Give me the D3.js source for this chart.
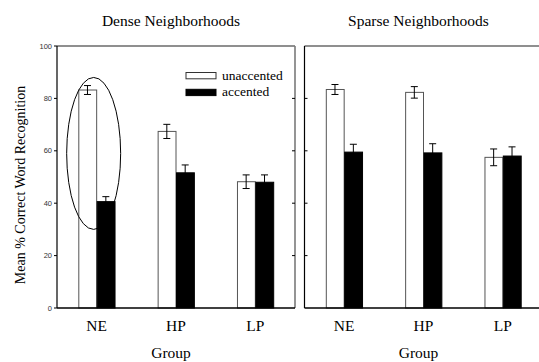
<!DOCTYPE html>
<html>
<head>
<meta charset="utf-8">
<script src="https://cdn.jsdelivr.net/npm/d3@7"></script>
<style>
  html, body { margin: 0; padding: 0; background: #fff; }
  svg { display: block; }
</style>
</head>
<body>
<svg id="chart" width="539" height="362"></svg>
<script>
// Word recognition by listener group, split by neighborhood density
const groups = ["NE", "HP", "LP"];
const panels = ["Dense Neighborhoods", "Sparse Neighborhoods"];
const seriesNames = ["unaccented", "accented"];

const denseUnaccented = [83.2, 67.4, 48.2];
const denseAccented   = [40.6, 51.6, 48.0];
const sparseUnaccented = [83.4, 82.3, 57.5];
const sparseAccented   = [59.5, 59.2, 58.0];

const denseUnaccentedErr = [1.7, 2.7, 2.6];
const denseAccentedErr   = [1.9, 3.0, 2.8];
const sparseUnaccentedErr = [1.9, 2.2, 3.2];
const sparseAccentedErr   = [3.0, 3.5, 3.5];

const yTicks = [0, 20, 40, 60, 80, 100];
const yLabel = "Mean % Correct Word Recognition";
const xLabel = "Group";

// highlighted region around the dense NE pair (value range)
const ringGroup = "NE";
const ringRange = [30, 88];

const panelData = [
  { title: panels[0], values: [denseUnaccented, denseAccented], errs: [denseUnaccentedErr, denseAccentedErr] },
  { title: panels[1], values: [sparseUnaccented, sparseAccented], errs: [sparseUnaccentedErr, sparseAccentedErr] }
];

const svg = d3.select("#chart");
const serif = "'Liberation Serif', 'Times New Roman', serif";
const sans = "'Liberation Sans', Arial, sans-serif";

const plotTop = 46, plotBottom = 308;
const panelX = [[57, 295], [304.5, 542.5]];

const y = d3.scaleLinear().domain([0, 100]).range([plotBottom, plotTop]);

panelData.forEach((p, pi) => {
  const [x0, x1] = panelX[pi];
  const x = d3.scaleBand().domain(groups).range([x0, x1]).paddingInner(0.537).paddingOuter(0.2685);
  const xs = d3.scaleBand().domain(seriesNames).range([0, x.bandwidth()]);
  const g = svg.append("g");
  const mid = (x0 + x1) / 2 - 5;

  // title
  g.append("text").attr("x", mid).attr("y", 26).attr("text-anchor", "middle")
    .style("font-family", serif).style("font-size", "15.5px").text(p.title);

  // frame: top and right edges
  g.append("line").attr("x1", x0).attr("x2", x1).attr("y1", plotTop).attr("y2", plotTop)
    .attr("stroke", "#6a6a6a").attr("stroke-width", 1.6);
  if (pi === 0) {
    g.append("line").attr("x1", x1).attr("x2", x1).attr("y1", plotTop).attr("y2", plotBottom)
      .attr("stroke", "#7a7a7a").attr("stroke-width", 1.6);
    // inward ticks on the right edge
    g.selectAll(".rt").data(yTicks.filter(t => t > 0 && t < 100)).enter().append("line")
      .attr("x1", x1 - 3).attr("x2", x1).attr("y1", d => y(d)).attr("y2", d => y(d))
      .attr("stroke", "#000").attr("stroke-width", 1);
  }

  // bars
  seriesNames.forEach((s, si) => {
    g.selectAll(".bar" + si).data(groups).enter().append("rect")
      .attr("x", d => x(d) + xs(s) + 0.5)
      .attr("y", (d, i) => y(p.values[si][i]))
      .attr("width", xs.bandwidth() - 0.5)
      .attr("height", (d, i) => y(0) - y(p.values[si][i]))
      .attr("fill", si === 0 ? "#fff" : "#000")
      .attr("stroke", si === 0 ? "#555" : "#000")
      .attr("stroke-width", 1);
  });

  // error bars
  seriesNames.forEach((s, si) => {
    groups.forEach((d, i) => {
      const cx = x(d) + xs(s) + xs.bandwidth() / 2;
      const v = p.values[si][i], e = p.errs[si][i];
      const col = "#000";
      g.append("line").attr("x1", cx).attr("x2", cx).attr("y1", y(v + e)).attr("y2", y(v - e))
        .attr("stroke", col).attr("stroke-width", 1);
      [v + e, v - e].forEach(t => {
        g.append("line").attr("x1", cx - 3.5).attr("x2", cx + 3.5).attr("y1", y(t)).attr("y2", y(t))
          .attr("stroke", col).attr("stroke-width", 1);
      });
    });
  });

  // left axis
  const yAxis = g.append("g").attr("transform", `translate(${x0},0)`);
  yAxis.append("line").attr("x1", 0).attr("x2", 0).attr("y1", plotTop).attr("y2", plotBottom)
    .attr("stroke", "#000").attr("stroke-width", 1.2);
  if (pi === 0) {
    yAxis.selectAll(".tk").data(yTicks).enter().append("line")
      .attr("x1", -3).attr("x2", 0).attr("y1", d => y(d)).attr("y2", d => y(d))
      .attr("stroke", "#000");
    yAxis.selectAll(".tl").data(yTicks).enter().append("text")
      .attr("x", -5).attr("y", d => y(d)).attr("dy", "0.35em").attr("text-anchor", "end")
      .style("font-family", sans).style("font-size", "7.5px").attr("fill", "#333").text(d => d);
  } else {
    yAxis.selectAll(".tk").data(yTicks.filter(t => t > 0 && t < 100)).enter().append("line")
      .attr("x1", 0).attr("x2", 3).attr("y1", d => y(d)).attr("y2", d => y(d))
      .attr("stroke", "#000");
  }

  // bottom axis
  g.append("line").attr("x1", x0).attr("x2", x1).attr("y1", plotBottom).attr("y2", plotBottom)
    .attr("stroke", "#000").attr("stroke-width", 1.4);
  g.selectAll(".xl").data(groups).enter().append("text")
    .attr("x", d => x(d) + x.bandwidth() / 2).attr("y", 330.5).attr("text-anchor", "middle")
    .style("font-family", serif).style("font-size", "15.5px").text(d => d);
  g.append("text").attr("x", mid).attr("y", 358).attr("text-anchor", "middle")
    .style("font-family", serif).style("font-size", "15.5px").text(xLabel);

  if (pi === 0) {
    // ellipse around the NE pair
    const cx = x(ringGroup) + x.bandwidth() / 2 - 3;
    g.append("ellipse")
      .attr("cx", cx).attr("cy", (y(ringRange[0]) + y(ringRange[1])) / 2)
      .attr("rx", 27).attr("ry", (y(ringRange[0]) - y(ringRange[1])) / 2)
      .attr("fill", "none").attr("stroke", "#000").attr("stroke-width", 1);

    // legend
    const lg = g.append("g").attr("transform", "translate(186,72.5)");
    seriesNames.forEach((s, si) => {
      lg.append("rect").attr("x", 0).attr("y", si * 16.8).attr("width", 30).attr("height", 6.3)
        .attr("fill", si === 0 ? "#fff" : "#000").attr("stroke", si === 0 ? "#333" : "#000");
      lg.append("text").attr("x", 36).attr("y", si * 16.8 + 7)
        .style("font-family", serif).style("font-size", "13.5px").text(s);
    });
  }
});

// shared y-axis title
svg.append("text")
  .attr("transform", `translate(24.5,185) rotate(-90)`)
  .attr("text-anchor", "middle")
  .style("font-family", serif).style("font-size", "14px")
  .text(yLabel);
</script>
</body>
</html>
